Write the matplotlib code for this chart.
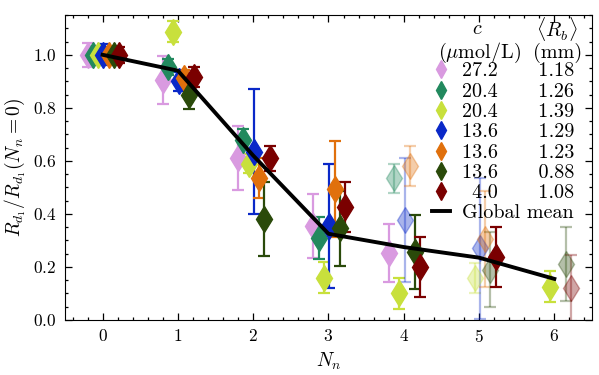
import numpy as np
import matplotlib
matplotlib.use("Agg")
from matplotlib import pyplot as plt
from matplotlib.lines import Line2D
from matplotlib.ticker import MultipleLocator

plt.rcParams['font.family'] = ['cmr10', 'DejaVu Serif']
plt.rcParams['mathtext.fontset'] = 'cm'
plt.rcParams['axes.formatter.use_mathtext'] = True
plt.rcParams['axes.unicode_minus'] = False

# legend table
conc = ['27.2', '20.4', '20.4', '13.6', '13.6', '13.6', '4.0']
rb = ['1.18', '1.26', '1.39', '1.29', '1.23', '0.88', '1.08']
colors = ['#D99AE0', '#22895E', '#C8E03C', '#0A28C8', '#E0700C', '#2A4A0A', '#7A0000']

# data per series: neuron number, normalised radius, error, faded flag
n0 = [0, 1, 2, 3, 4]
y0 = [1.0, 0.905, 0.61, 0.355, 0.253]
e0 = [0.045, 0.09, 0.12, 0.12, 0.11]
f0 = [0, 0, 0, 0, 0]

n1 = [0, 1, 2, 3, 4]
y1 = [1.0, 0.955, 0.68, 0.31, 0.535]
e1 = [0.03, 0.03, 0.04, 0.08, 0.055]
f1 = [0, 0, 0, 0, 1]

n2 = [0, 1, 2, 3, 4, 5, 6]
y2 = [1.0, 1.087, 0.59, 0.16, 0.10, 0.158, 0.125]
e2 = [0.03, 0.04, 0.035, 0.06, 0.06, 0.057, 0.058]
f2 = [0, 0, 0, 0, 0, 1, 0]

n3 = [0, 1, 2, 3, 4, 5]
y3 = [1.0, 0.90, 0.635, 0.355, 0.377, 0.27]
e3 = [0.04, 0.035, 0.235, 0.235, 0.235, 0.265]
f3 = [0, 0, 0, 0, 1, 1]

n4 = [0, 1, 2, 3, 4, 5]
y4 = [1.0, 0.913, 0.535, 0.494, 0.58, 0.305]
e4 = [0.03, 0.03, 0.075, 0.18, 0.076, 0.18]
f4 = [0, 0, 0, 0, 1, 1]

n5 = [0, 1, 2, 3, 4, 5, 6]
y5 = [1.0, 0.85, 0.38, 0.345, 0.256, 0.19, 0.21]
e5 = [0.03, 0.055, 0.14, 0.14, 0.14, 0.14, 0.14]
f5 = [0, 0, 0, 0, 0, 1, 1]

n6 = [0, 1, 2, 3, 4, 5, 6]
y6 = [1.0, 0.917, 0.61, 0.427, 0.20, 0.237, 0.12]
e6 = [0.03, 0.037, 0.047, 0.095, 0.113, 0.114, 0.125]
f6 = [0, 0, 0, 0, 0, 0, 1]

mean_n = [0, 1, 2, 3, 4, 5, 6]
mean_y = [1.0, 0.94, 0.62, 0.325, 0.275, 0.235, 0.155]

series = [(n0, y0, e0, f0), (n1, y1, e1, f1), (n2, y2, e2, f2), (n3, y3, e3, f3),
          (n4, y4, e4, f4), (n5, y5, e5, f5), (n6, y6, e6, f6)]
offsets = np.linspace(-0.2, 0.22, 7)

fig = plt.figure(figsize=(5.99, 3.75), dpi=100)
ax = fig.add_axes([0.1085, 0.1467, 0.8798, 0.8133])

for i, (n, y, e, f) in enumerate(series):
    for k in range(len(n)):
        a = 0.35 if f[k] else 1.0
        ax.errorbar(n[k] + offsets[i], y[k], yerr=e[k], fmt='d', color=colors[i],
                    ms=13, capsize=4, elinewidth=1.6, capthick=1.6, alpha=a)

ax.plot(mean_n, mean_y, color='k', lw=2.8, zorder=10)

ax.set_xlim(-0.5, 6.5)
ax.set_ylim(0, 1.15)
ax.xaxis.set_major_locator(MultipleLocator(1))
ax.xaxis.set_minor_locator(MultipleLocator(0.2))
ax.yaxis.set_major_locator(MultipleLocator(0.2))
ax.yaxis.set_minor_locator(MultipleLocator(0.05))
ax.tick_params(which='both', direction='in', top=True, right=True, labelsize=12.5, pad=6)
ax.tick_params(which='major', length=5, width=0.9)
ax.tick_params(which='minor', length=2.5, width=0.9)
ax.set_xlabel(r'$N_n$', fontsize=14)
ax.set_ylabel(r'$R_{d_1}/R_{d_1}(N_n=0)$', fontsize=14)

# table-like legend: marker, c, <R_b>
handles = [Line2D([], [], marker='d', ls='none', color=c, ms=9) for c in colors]
labels = []
for c, r in zip(conc, rb):
    pad = '\u2002' if len(c) < 4 else ''
    labels.append(pad + c + '\u2002' * 4 + r)
leg = ax.legend(handles, labels, loc='upper left', bbox_to_anchor=(0.696, 0.845),
                frameon=False, fontsize=14.5, borderpad=0, borderaxespad=0,
                handlelength=0.9, handletextpad=0.6, labelspacing=0.11)
ax.add_artist(leg)
ax.legend([Line2D([], [], color='k', lw=2.8)], ['Global mean'], loc='upper left',
          bbox_to_anchor=(0.696, 0.379), frameon=False, fontsize=14.5, borderpad=0,
          borderaxespad=0, handlelength=0.9, handletextpad=0.6)

ax.text(0.782, 0.955, r'$c$', transform=ax.transAxes, ha='center', va='center', fontsize=14.5)
ax.text(0.934, 0.955, r'$\langle R_b\rangle$', transform=ax.transAxes, ha='center', va='center', fontsize=14.5)
ax.text(0.787, 0.877, r'$(\mu\mathrm{mol/L})$', transform=ax.transAxes, ha='center', va='center', fontsize=14.5)
ax.text(0.934, 0.877, '(mm)', transform=ax.transAxes, ha='center', va='center', fontsize=14.5)

fig.savefig('out.png', dpi=100)
